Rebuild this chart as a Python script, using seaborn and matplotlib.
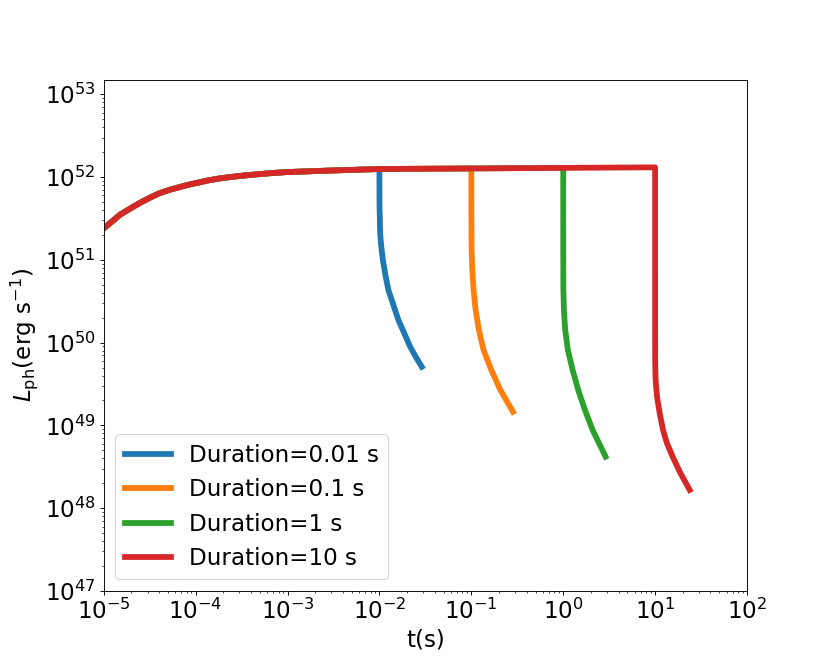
import numpy as np
import pandas as pd
import matplotlib
matplotlib.use("Agg")
import matplotlib.pyplot as plt
import seaborn as sns

# ==============================
# DATA
# ==============================
durations = [0.01, 0.1, 1, 10]
labels = ["Duration=0.01 s", "Duration=0.1 s", "Duration=1 s", "Duration=10 s"]

# shared rising / plateau phase
rise_t = [1e-5, 1.25e-5, 1.5e-5, 2e-5, 2.5e-5, 3.2e-5, 4e-5, 5.2e-5, 6.7e-5, 8.5e-5, 1.1e-4,
          1.4e-4, 1.8e-4, 2.4e-4, 3e-4, 4.7e-4, 7e-4, 1e-3, 1.6e-3, 2.4e-3, 5e-3,
          1e-2, 3e-2, 0.1, 0.3, 1, 3, 10]
rise_L = [2.40e51, 2.95e51, 3.5e51, 4.25e51, 4.9e51, 5.65e51, 6.35e51, 7.0e51, 7.57e51, 8.1e51, 8.63e51,
          9.15e51, 9.6e51, 1.0e52, 1.03e52, 1.08e52, 1.12e52, 1.15e52, 1.17e52, 1.19e52, 1.22e52,
          1.25e52, 1.26e52, 1.27e52, 1.28e52, 1.29e52, 1.30e52, 1.31e52]

# decay after the engine turns off
drop_t_001 = [0.01, 0.01001, 0.01018, 0.01046, 0.0109, 0.01162, 0.01253, 0.0142, 0.0161, 0.01857, 0.0216, 0.0249, 0.0289]
drop_L_001 = [1.25e52, 5e51, 2.09e51, 1.47e51, 9.96e50, 6.55e50, 4.3e50, 2.84e50, 1.87e50, 1.31e50, 8.9e49, 6.7e49, 5.1e49]

drop_t_01 = [0.1, 0.1002, 0.1004, 0.10075, 0.1025, 0.1059, 0.1114, 0.121, 0.136, 0.165, 0.207, 0.284]
drop_L_01 = [1.27e52, 5e51, 2.3e51, 1.31e51, 7.5e50, 4.3e50, 2.48e50, 1.42e50, 8.1e49, 4.67e49, 2.68e49, 1.46e49]

drop_t_1 = [1.0, 1.0003, 1.001, 1.004, 1.018, 1.051, 1.125, 1.266, 1.456, 1.722, 2.089, 2.89]
drop_L_1 = [1.29e52, 4e51, 1.3e51, 4.3e50, 2.48e50, 1.42e50, 8.1e49, 4.67e49, 2.68e49, 1.54e49, 8.8e48, 4.19e48]

drop_t_10 = [10.0, 10.003, 10.008, 10.02, 10.13, 10.49, 11.22, 12.19, 13.44, 15.5, 18.9, 23.8]
drop_L_10 = [1.31e52, 2e51, 1.42e50, 5.62e49, 3.53e49, 2.22e49, 1.40e49, 8.8e48, 6.12e48, 4.19e48, 2.64e48, 1.66e48]

drops = [(drop_t_001, drop_L_001), (drop_t_01, drop_L_01),
         (drop_t_1, drop_L_1), (drop_t_10, drop_L_10)]

rows = []
for dur, lab, (dt, dL) in zip(durations, labels, drops):
    for t, L in zip(rise_t, rise_L):
        if t < dur:
            rows.append((t, L, lab))
    for t, L in zip(dt, dL):
        rows.append((t, L, lab))
df = pd.DataFrame(rows, columns=["t", "L", "label"])

# ==============================
# PLOT
# ==============================
fig, ax = plt.subplots(figsize=(10, 8), dpi=83)

sns.lineplot(data=df, x="t", y="L", hue="label", hue_order=labels,
             palette="tab10", estimator=None, sort=False, lw=5, ax=ax)

ax.set_xscale("log")
ax.set_yscale("log")
ax.set_xlim(1e-5, 1e2)
ax.set_ylim(1e47, 1.5e53)

ax.set_xlabel("t(s)", fontsize=20)
ax.set_ylabel(r"$L_{\rm ph}({\rm erg\ s^{-1}})$", fontsize=20)
ax.tick_params(labelsize=20)

ax.legend(loc="lower left", fontsize=20, title=None)

plt.savefig("out.png", dpi=83)
